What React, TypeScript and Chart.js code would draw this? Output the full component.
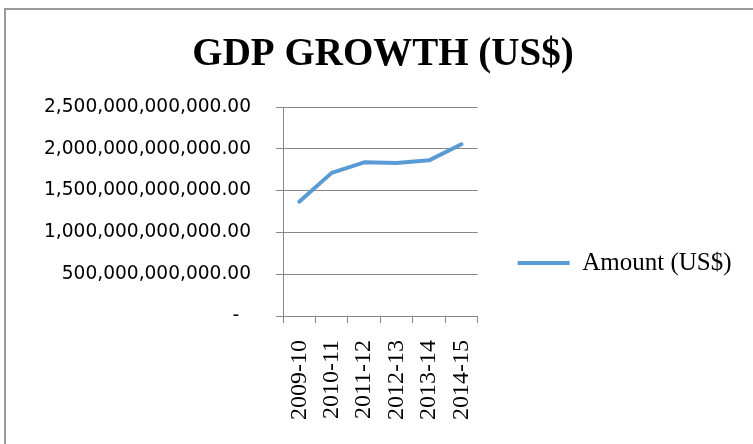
import React, { useEffect, useRef } from "react";
import { Chart, registerables } from "chart.js";

Chart.register(...registerables);

const categories = ["2009-10", "2010-11", "2011-12", "2012-13", "2013-14", "2014-15"];
const amounts = [1367e9, 1712e9, 1838e9, 1830e9, 1862e9, 2054e9];
const seriesName = "Amount (US$)";
const titleText = "GDP GROWTH (US$)";
const yTickValues = [0, 5e11, 1e12, 1.5e12, 2e12, 2.5e12];

const GRID = "#878787";

export default function App() {
  const ref = useRef<HTMLCanvasElement>(null);
  useEffect(() => {
    const chart = new Chart(ref.current as HTMLCanvasElement, {
      type: "line",
      data: {
        labels: categories,
        datasets: [
          {
            label: seriesName,
            data: amounts,
            borderColor: "#5b9bd5",
            backgroundColor: "#5b9bd5",
            borderWidth: 4,
            pointRadius: 0,
            pointHoverRadius: 0,
            tension: 0,
            fill: false,
            borderCapStyle: "round",
            borderJoinStyle: "round",
          },
        ],
      },
      options: {
        responsive: false,
        animation: false,
        devicePixelRatio: 1,
        layout: { padding: { left: 24.5, right: 11.5, top: 10, bottom: 4 } },
        plugins: {
          title: {
            display: true,
            text: titleText,
            color: "#000",
            font: { family: "Liberation Serif", size: 39, weight: "bold" },
            padding: { top: 21.6, bottom: 28.6 },
          },
          legend: {
            position: "right",
            maxWidth: 400,
            labels: {
              usePointStyle: true,
              pointStyle: "line",
              pointStyleWidth: 52,
              padding: 40,
              color: "#000",
              font: { family: "Liberation Serif", size: 25 },
            },
          },
          tooltip: { enabled: false },
        },
        scales: {
          x: {
            offset: true,
            ticks: {
              minRotation: 90,
              maxRotation: 90,
              autoSkip: false,
              color: "#000",
              padding: 17,
              font: { family: "Liberation Serif", size: 24 },
            },
            grid: {
              offset: true,
              drawOnChartArea: false,
              drawTicks: true,
              tickLength: 7,
              color: GRID,
            },
            border: { color: GRID, width: 1 },
            afterFit: (s: any) => {
              s.height = 200;
            },
          },
          y: {
            min: 0,
            max: 2.5e12,
            afterBuildTicks: (s: any) => {
              s.ticks = yTickValues.map((v) => ({ value: v }));
            },
            ticks: {
              color: "#000",
              padding: 25,
              font: { family: "DejaVu Sans", size: 18.6 },
              callback: (v: any) =>
                Number(v) === 0
                  ? "-  "
                  : Number(v).toLocaleString("en-US", {
                      minimumFractionDigits: 2,
                      maximumFractionDigits: 2,
                    }),
            },
            grid: { color: GRID, lineWidth: 1, tickLength: 7, drawTicks: true },
            border: { color: GRID, width: 1 },
            afterFit: (s: any) => {
              s.width = 258.5;
            },
          },
        },
      },
    } as any);
    return () => chart.destroy();
  }, []);

  return (
    <div
      style={{
        position: "fixed",
        left: 0,
        top: 0,
        width: 753,
        height: 444,
        overflow: "hidden",
        background: "#fff",
      }}
    >
      <canvas ref={ref} width={753} height={520} style={{ position: "absolute", left: 0, top: 0 }} />
      <div
        style={{
          position: "absolute",
          left: 4,
          top: 8,
          width: 900,
          height: 600,
          borderLeft: "2px solid #9a9a9a",
          borderTop: "2px solid #9a9a9a",
          pointerEvents: "none",
        }}
      />
    </div>
  );
}
